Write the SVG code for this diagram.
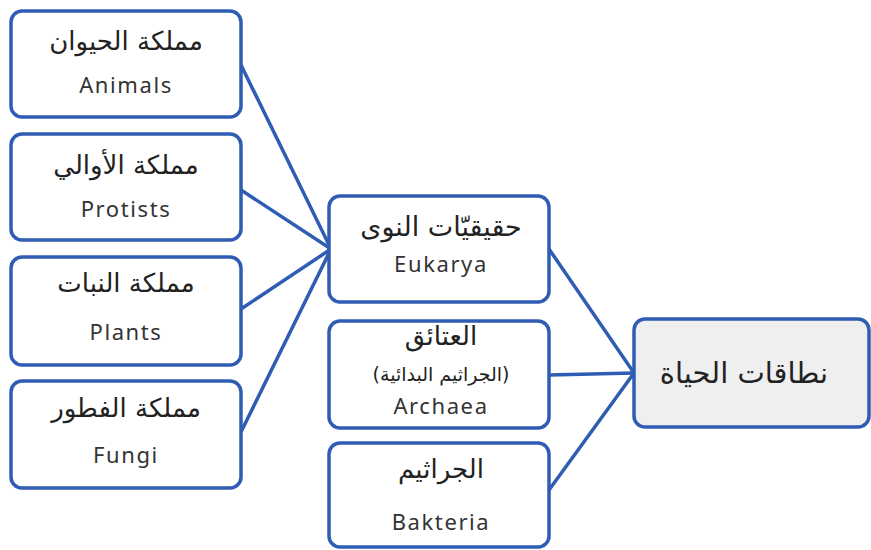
<svg xmlns="http://www.w3.org/2000/svg" width="871" height="550" viewBox="0 0 871 550">
<style>
.box{fill:#fff;stroke:#2f5db3;stroke-width:3.5}
.root{fill:#efeff0;stroke:#2f5db3;stroke-width:3.5}
.ar{font-family:"DejaVu Sans","Noto Sans",sans-serif;font-size:26px;font-weight:500;fill:#222;text-anchor:middle;direction:rtl}
.arS{font-family:"DejaVu Sans","Noto Sans",sans-serif;font-size:19px;fill:#222;text-anchor:middle;direction:rtl}
.en{font-family:"Noto Sans","DejaVu Sans",sans-serif;font-size:22px;fill:#333;text-anchor:middle;letter-spacing:1.6px}
.big{font-family:"DejaVu Sans","Noto Sans",sans-serif;font-size:29px;fill:#222;text-anchor:middle;direction:rtl}
.ln{stroke:#2f5db3;stroke-width:3.5;fill:none;stroke-linecap:round}
</style>
<g id="connectors">
<line class="ln" x1="241" y1="65" x2="331" y2="249"/>
<line class="ln" x1="241" y1="190" x2="331" y2="249"/>
<line class="ln" x1="241" y1="309" x2="331" y2="249"/>
<line class="ln" x1="241" y1="432" x2="331" y2="249"/>
<line class="ln" x1="549" y1="249" x2="634" y2="373"/>
<line class="ln" x1="549" y1="375" x2="634" y2="373"/>
<line class="ln" x1="549" y1="490" x2="634" y2="373"/>
</g>
<g id="animals">
<rect class="box" x="11" y="11" width="230" height="106" rx="11"/>
<text class="ar" x="126" y="50">مملكة الحيوان</text>
<text class="en" x="126" y="93">Animals</text>
</g>
<g id="protists">
<rect class="box" x="11" y="134" width="230" height="106" rx="11"/>
<text class="ar" x="126" y="174">مملكة الأوالي</text>
<text class="en" x="126" y="217">Protists</text>
</g>
<g id="plants">
<rect class="box" x="11" y="257" width="230" height="108" rx="11"/>
<text class="ar" x="126" y="292">مملكة النبات</text>
<text class="en" x="126" y="340">Plants</text>
</g>
<g id="fungi">
<rect class="box" x="11" y="381" width="230" height="107" rx="11"/>
<text class="ar" x="126" y="417">مملكة الفطور</text>
<text class="en" x="126" y="463">Fungi</text>
</g>
<g id="eukarya">
<rect class="box" x="329" y="196" width="220" height="106" rx="11"/>
<text class="ar" x="441" y="236" style="font-size:27px">حقيقيّات النوى</text>
<text class="en" x="441" y="272">Eukarya</text>
</g>
<g id="archaea">
<rect class="box" x="329" y="321" width="220" height="107" rx="11"/>
<text class="ar" x="441" y="345">العتائق</text>
<text class="arS" x="441" y="381">(الجراثيم البدائية)</text>
<text class="en" x="441" y="414">Archaea</text>
</g>
<g id="bakteria">
<rect class="box" x="329" y="443" width="220" height="104" rx="11"/>
<text class="ar" x="441" y="478">الجراثيم</text>
<text class="en" x="441" y="530">Bakteria</text>
</g>
<g id="domains">
<rect class="root" x="634" y="319" width="235" height="108" rx="11"/>
<text class="big" x="744" y="383">نطاقات الحياة</text>
</g>
</svg>
